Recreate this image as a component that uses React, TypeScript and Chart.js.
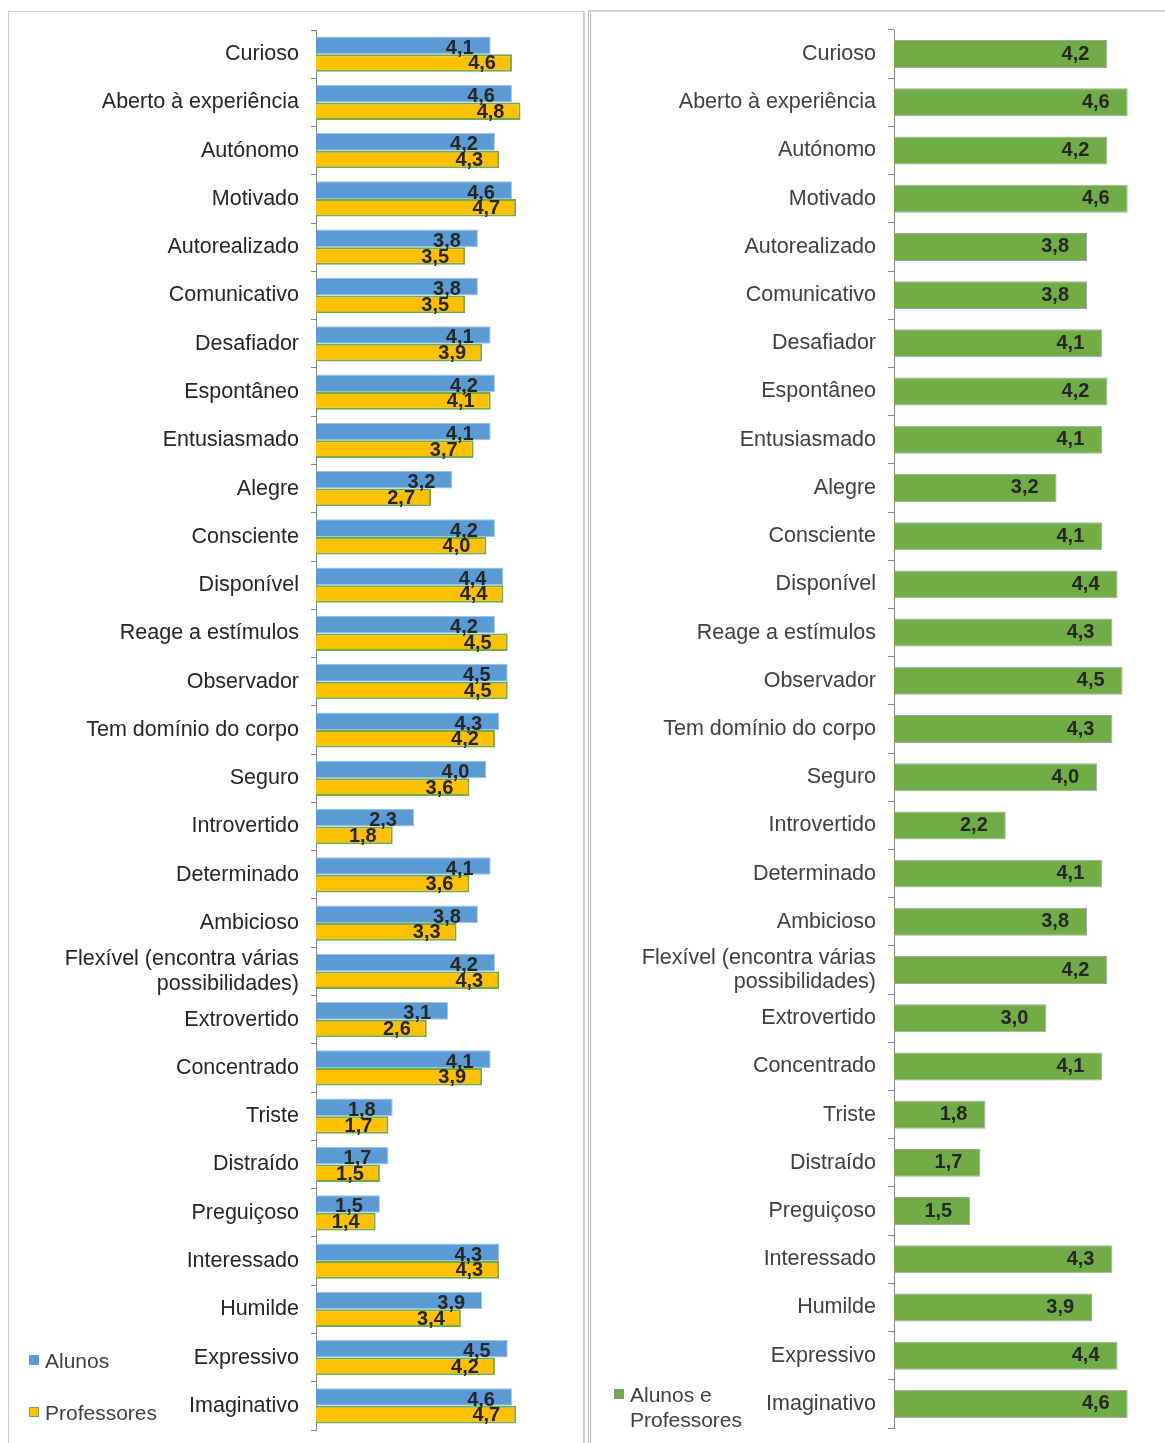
import React, { useEffect, useRef } from 'react';
import { Chart, registerables } from 'chart.js';

Chart.register(...registerables);

const categories: string[] = [
  'Curioso', 'Aberto à experiência', 'Autónomo', 'Motivado', 'Autorealizado', 'Comunicativo',
  'Desafiador', 'Espontâneo', 'Entusiasmado', 'Alegre', 'Consciente', 'Disponível',
  'Reage a estímulos', 'Observador', 'Tem domínio do corpo', 'Seguro', 'Introvertido',
  'Determinado', 'Ambicioso', 'Flexível (encontra várias\npossibilidades)', 'Extrovertido',
  'Concentrado', 'Triste', 'Distraído', 'Preguiçoso', 'Interessado', 'Humilde', 'Expressivo',
  'Imaginativo',
];

const alunos: number[] = [
  4.1, 4.6, 4.2, 4.6, 3.8, 3.8, 4.1, 4.2, 4.1, 3.2, 4.2, 4.4, 4.2, 4.5, 4.3, 4.0, 2.3, 4.1,
  3.8, 4.2, 3.1, 4.1, 1.8, 1.7, 1.5, 4.3, 3.9, 4.5, 4.6,
];

const professores: number[] = [
  4.6, 4.8, 4.3, 4.7, 3.5, 3.5, 3.9, 4.1, 3.7, 2.7, 4.0, 4.4, 4.5, 4.5, 4.2, 3.6, 1.8, 3.6,
  3.3, 4.3, 2.6, 3.9, 1.7, 1.5, 1.4, 4.3, 3.4, 4.2, 4.7,
];

const alunosEProfessores: number[] = [
  4.2, 4.6, 4.2, 4.6, 3.8, 3.8, 4.1, 4.2, 4.1, 3.2, 4.1, 4.4, 4.3, 4.5, 4.3, 4.0, 2.2, 4.1,
  3.8, 4.2, 3.0, 4.1, 1.8, 1.7, 1.5, 4.3, 3.9, 4.4, 4.6,
];

const seriesNames = ['Alunos', 'Professores', 'Alunos e Professores'];
const axisMax = 5;

const FONT = '"Liberation Sans", Arial, Helvetica, sans-serif';

const labels = categories.map((c) => (c.includes('\n') ? c.split('\n') : c));

const valueLabels = {
  id: 'valueLabels',
  afterDatasetsDraw(chart: any, _args: any, opts: any) {
    const ctx = chart.ctx;
    ctx.save();
    ctx.font = `bold ${opts.size}px ${FONT}`;
    ctx.fillStyle = opts.color;
    ctx.textAlign = 'right';
    ctx.textBaseline = 'middle';
    chart.data.datasets.forEach((ds: any, i: number) => {
      const meta = chart.getDatasetMeta(i);
      const inset = opts.insets[i];
      const dy = opts.dys[i];
      meta.data.forEach((bar: any, j: number) => {
        const v = ds.data[j] as number;
        ctx.fillText(v.toFixed(1).replace('.', ','), bar.x - inset, bar.y + dy);
      });
    });
    ctx.restore();
  },
};

function makeYAxis(width: number, color: string, tickLen: number) {
  return {
    grid: {
      display: true,
      drawOnChartArea: false,
      offset: true,
      tickLength: tickLen,
      color: '#868686',
      lineWidth: 1,
    },
    border: { color: '#868686', width: 1 },
    ticks: {
      autoSkip: false,
      color,
      padding: 12,
      font: { family: FONT, size: 21.5, lineHeight: 1.15 },
    },
    afterFit(scale: any) {
      scale.width = width;
      scale.paddingTop = 0;
      scale.paddingBottom = 0;
    },
  };
}

function LeftChart() {
  const ref = useRef<HTMLCanvasElement>(null);
  useEffect(() => {
    if (!ref.current) return;
    const chart = new Chart(ref.current, {
      type: 'bar',
      data: {
        labels,
        datasets: [
          {
            label: seriesNames[0],
            data: alunos,
            backgroundColor: '#5B9BD5',
            borderColor: '#9DC3E6',
            borderWidth: 1,
            categoryPercentage: 0.73,
            barPercentage: 1,
          },
          {
            label: seriesNames[1],
            data: professores,
            backgroundColor: '#FFC000',
            borderColor: '#70AD47',
            borderWidth: 2,
            categoryPercentage: 0.73,
            barPercentage: 1,
          },
        ],
      },
      options: {
        indexAxis: 'y',
        responsive: false,
        animation: false,
        layout: { padding: { top: 18, bottom: 13, left: 0, right: 573 - 307 - 42.6 * axisMax } },
        plugins: {
          legend: { display: false },
          tooltip: { enabled: false },
          valueLabels: { size: 20, color: '#262626', insets: [17, 16], dys: [3, 1] },
        } as any,
        scales: {
          x: { display: false, min: 0, max: axisMax },
          y: makeYAxis(307, '#262626', 5) as any,
        },
      },
      plugins: [valueLabels],
    });
    return () => chart.destroy();
  }, []);
  return (
    <canvas
      ref={ref}
      width={573}
      height={1431}
      style={{ position: 'absolute', left: 9, top: 12, width: 573, height: 1431, display: 'block' }}
    />
  );
}

function RightChart() {
  const ref = useRef<HTMLCanvasElement>(null);
  useEffect(() => {
    if (!ref.current) return;
    const chart = new Chart(ref.current, {
      type: 'bar',
      data: {
        labels,
        datasets: [
          {
            label: seriesNames[2],
            data: alunosEProfessores,
            backgroundColor: '#70AD47',
            borderColor: '#A5A5A5',
            borderWidth: 1,
            categoryPercentage: 0.58,
            barPercentage: 1,
          },
        ],
      },
      options: {
        indexAxis: 'y',
        responsive: false,
        animation: false,
        layout: { padding: { top: 18, bottom: 15, left: 0, right: 574 - 303 - 50.8 * axisMax } },
        plugins: {
          legend: { display: false },
          tooltip: { enabled: false },
          valueLabels: { size: 20, color: '#262626', insets: [18], dys: [0] },
        } as any,
        scales: {
          x: { display: false, min: 0, max: axisMax },
          y: makeYAxis(303, '#404040', 6) as any,
        },
      },
      plugins: [valueLabels],
    });
    return () => chart.destroy();
  }, []);
  return (
    <canvas
      ref={ref}
      width={574}
      height={1431}
      style={{ position: 'absolute', left: 591, top: 12, width: 574, height: 1431, display: 'block' }}
    />
  );
}

function LegendItem(props: { left: number; top: number; color: string; border: string; lines: string[] }) {
  const { left, top, color, border, lines } = props;
  return (
    <div
      style={{
        position: 'absolute',
        left,
        top,
        fontFamily: FONT,
        fontSize: 21,
        lineHeight: '25px',
        color: '#404040',
        whiteSpace: 'nowrap',
      }}
    >
      <span
        style={{
          position: 'absolute',
          left: 0,
          top: 7,
          width: 10,
          height: 10,
          boxSizing: 'border-box',
          background: color,
          border: `1px solid ${border}`,
        }}
      />
      <div style={{ marginLeft: 16 }}>
        {lines.map((l, i) => (
          <div key={i}>{l}</div>
        ))}
      </div>
    </div>
  );
}

export default function App() {
  return (
    <div
      style={{
        position: 'absolute',
        left: 0,
        top: 0,
        width: 1165,
        height: 1443,
        overflow: 'hidden',
        background: '#ffffff',
      }}
    >
      <div
        style={{
          position: 'absolute',
          left: 8,
          top: 11,
          width: 574,
          height: 1460,
          border: '1px solid #d0d0d0',
          borderRightWidth: 2,
        }}
      />
      <div
        style={{
          position: 'absolute',
          left: 588,
          top: 10,
          width: 600,
          height: 1460,
          borderTop: '2px solid #cfcfcf',
          borderLeft: '3px double #b8b8b8',
        }}
      />
      <LeftChart />
      <RightChart />
      <LegendItem left={29} top={1348} color="#5B9BD5" border="#5B9BD5" lines={[seriesNames[0]]} />
      <LegendItem left={29} top={1400} color="#FFC000" border="#70AD47" lines={[seriesNames[1]]} />
      <LegendItem left={614} top={1382} color="#70AD47" border="#8c8c8c" lines={['Alunos e', 'Professores']} />
    </div>
  );
}
